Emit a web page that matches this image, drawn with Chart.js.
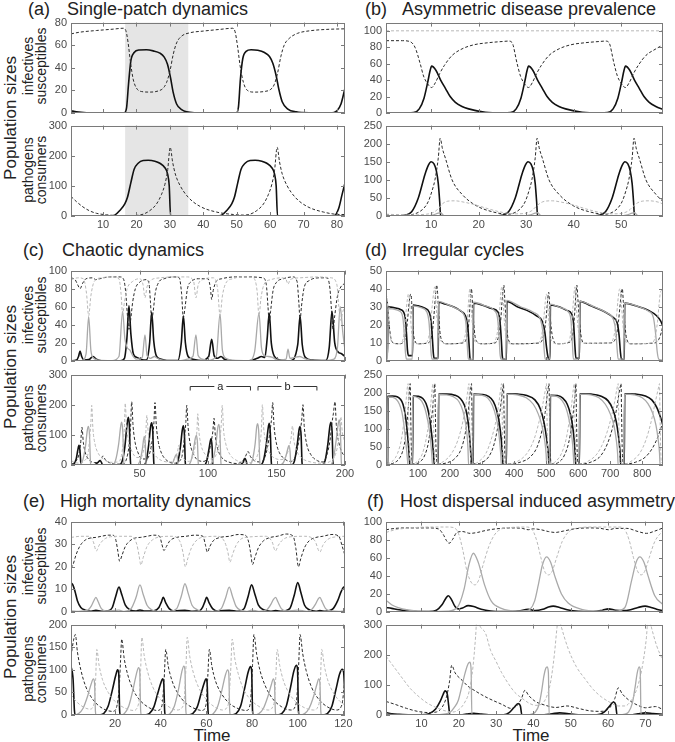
<!DOCTYPE html>
<html>
<head>
<meta charset="utf-8">
<script src="https://cdn.jsdelivr.net/npm/chart.js@4.4.0/dist/chart.umd.min.js"></script>
<style>
  body { margin: 0; background: #fff; width: 675px; height: 742px; position: relative; overflow: hidden;
         font-family: "Liberation Sans", Arial, sans-serif; color: #222; }
  canvas { position: absolute; }
  .ttl { position: absolute; font-size: 18px; line-height: 1; white-space: nowrap; }
  .rot { position: absolute; transform: translate(-50%, -50%) rotate(-90deg); white-space: nowrap; text-align: center; }
  .big { font-size: 17px; line-height: 1; }
  .small { font-size: 14px; line-height: 13px; }
  .time { position: absolute; font-size: 17px; line-height: 1; transform: translateX(-50%); }
</style>
</head>
<body>
<div class="ttl" style="left:28px;top:0px">(a)</div>
<div class="ttl" style="left:67px;top:0px">Single-patch dynamics</div>
<div class="ttl" style="left:365px;top:0px">(b)</div>
<div class="ttl" style="left:402px;top:0px">Asymmetric disease prevalence</div>
<div class="ttl" style="left:23px;top:241px">(c)</div>
<div class="ttl" style="left:62px;top:241px">Chaotic dynamics</div>
<div class="ttl" style="left:365px;top:241px">(d)</div>
<div class="ttl" style="left:402px;top:241px">Irregular cycles</div>
<div class="ttl" style="left:23px;top:492px">(e)</div>
<div class="ttl" style="left:60px;top:492px">High mortality dynamics</div>
<div class="ttl" style="left:367px;top:492px">(f)</div>
<div class="ttl" style="left:400px;top:492px">Host dispersal induced asymmetry</div>

<div class="rot big" style="left:10px;top:118px">Population sizes</div>
<div class="rot big" style="left:10px;top:367px">Population sizes</div>
<div class="rot big" style="left:10px;top:617px">Population sizes</div>
<div class="rot small" style="left:35px;top:66px">infectives<br>susceptibles</div>
<div class="rot small" style="left:35px;top:170px">pathogens<br>consumers</div>
<div class="rot small" style="left:35px;top:315px">infectives<br>susceptibles</div>
<div class="rot small" style="left:35px;top:418px">pathogens<br>consumers</div>
<div class="rot small" style="left:35px;top:566px">infectives<br>susceptibles</div>
<div class="rot small" style="left:35px;top:669px">pathogens<br>consumers</div>
<div class="time" style="left:212px;top:727px">Time</div>
<div class="time" style="left:531px;top:727px">Time</div>

<script>
// ---- tick labels ----
const aXTicks = [10, 20, 30, 40, 50, 60, 70, 80];
const bXTicks = [10, 20, 30, 40, 50];
const cXTicks = [50, 100, 150, 200];
const dXTicks = [100, 200, 300, 400, 500, 600, 700, 800];
const eXTicks = [20, 40, 60, 80, 100, 120];
const fXTicks = [10, 20, 30, 40, 50, 60, 70];
const aTopY = [0, 20, 40, 60, 80];
const aBotY = [0, 100, 200, 300];
const bTopY = [0, 20, 40, 60, 80, 100];
const bBotY = [0, 50, 100, 150, 200, 250];
const cTopY = [0, 20, 40, 60, 80, 100];
const cBotY = [0, 100, 200, 300];
const dTopY = [0, 10, 20, 30, 40, 50];
const dBotY = [0, 50, 100, 150, 200, 250];
const eTopY = [0, 10, 20, 30, 40];
const eBotY = [0, 50, 100, 150, 200];
const fTopY = [0, 20, 40, 60, 80, 100];
const fBotY = [0, 100, 200, 300];

// ---- (a) single patch ----
const aShade = [16.6, 35.5];
const aInf = [[0.4,2],[2,1],[5,0.2],[10,0],[16.3,0],[17,4],[17.6,25],[18.3,46],[19.3,53.5],[20.8,55.8],[23,56],[25,55],[27,53],[28.3,49.5],[29.3,43],[30.2,31],[31,18],[32,8],[33.5,3],[35,1],[38,0.2],[42,0],[49.8,0],[50.5,5],[51.1,30],[51.8,48],[52.8,54.5],[54.3,56],[56.3,55.5],[58.3,53.5],[59.8,50],[60.8,44],[61.8,33],[62.6,21],[63.6,10],[65.3,3.5],[67.8,1],[72,0.1],[78,0],[80,2],[81.2,8],[82.4,22]];
const aSus = [[0.4,70],[3,71.5],[8,73],[13,74.2],[16,75],[16.8,73],[17.5,62],[18.2,45],[19,30],[20,22],[21.5,19],[24,18.5],[26.5,19.5],[28,22],[29,27],[30,37],[31,52],[32,62],[33.5,68],[36,71],[40,72.5],[45,74],[48.8,75],[49.5,72],[50.2,60],[51,42],[52,27],[53.2,20],[55.2,18.5],[58.2,19],[60.2,21],[61.2,25],[62.2,35],[63.2,50],[64.2,60],[65.7,66],[68.2,70.5],[72,72.8],[77,74],[82.4,74.5]];
const aPath = [[0.4,0],[12,0],[13.5,3],[15,18],[16.5,40],[17.3,62],[18.3,110],[19.3,155],[20.5,175],[22,184],[23.5,185],[25.5,182],[27,175],[28.5,160],[29.3,140],[29.8,100],[30.2,0],[44,0],[45.5,3],[47,18],[48.5,40],[49.3,62],[50.3,110],[51.3,155],[52.5,175],[54,184],[55.5,185],[57.5,182],[59,175],[60.5,160],[61.3,140],[61.8,100],[62.2,0],[79,0],[80.5,25],[81.5,70],[82.4,110]];
const aCons = [[0.4,65],[2,48],[4,30],[6,17],[8,9],[11,4],[14,1.5],[17,0.5],[20,2],[22,6],[24,18],[26,40],[27.5,72],[28.5,105],[29.3,150],[30.1,228],[30.8,180],[31.6,140],[33,102],[35.5,62],[39,32],[44,13],[49,5],[52,3],[54,6],[56,18],[58,40],[59.5,72],[60.5,105],[61.3,150],[62.1,228],[62.8,180],[63.6,140],[65,102],[67.5,62],[71,32],[76,13],[81,5],[82.4,5]];

// ---- (b) asymmetric prevalence ----
const bInf1 = [[0.5,0.1],[5,0.1],[6.3,0.5],[7.5,5],[8.5,18],[9.3,38],[9.8,52],[10.1,57],[11,52],[12,40],[13,30],[14,20],[15.1,13],[16.5,8],[17.9,5],[21.4,1],[25,0.2],[26.7,0.5],[27.9,5],[28.9,18],[29.7,38],[30.2,52],[30.5,57],[31.4,52],[32.4,40],[33.4,30],[34.4,20],[35.5,13],[36.9,8],[38.3,5],[41.8,1],[45.5,0.2],[47.1,0.5],[48.3,5],[49.3,18],[50.1,38],[50.6,52],[50.9,57],[51.8,52],[52.8,40],[53.8,30],[54.8,20],[55.9,13],[57.3,8],[58.8,4.5]];
const bSus1 = [[0.5,88],[4,88],[5.5,87],[6.6,80],[7.7,60],[8.4,45],[9.2,36],[10.1,31],[10.9,37],[11.8,48],[12.8,58],[14.4,70],[16.5,78],[19,83],[22,85.5],[25,87],[26.3,87.5],[27,86],[28.1,60],[28.8,45],[29.6,36],[30.5,31],[31.3,37],[32.2,48],[33.2,58],[34.8,70],[36.9,78],[39.4,83],[42.4,85.5],[45.4,87],[46.7,87.5],[47.4,86],[48.5,60],[49.2,45],[50,36],[50.9,31],[51.7,37],[52.6,48],[53.6,58],[55.2,70],[57.3,78],[58.8,83]];
const bSus2 = [[0.5,100],[58.8,100]];
const bPath1 = [[0.5,0],[3,0],[4.5,2],[5.9,12],[7.3,50],[8.7,115],[9.4,140],[10,150],[10.6,144],[11.1,125],[11.5,90],[11.8,40],[12,0],[23.4,0],[24.9,2],[26.3,12],[27.7,50],[29.1,115],[29.8,140],[30.4,150],[31,144],[31.5,125],[31.9,90],[32.2,40],[32.4,0],[43.8,0],[45.3,2],[46.7,12],[48.1,50],[49.5,115],[50.2,140],[50.8,150],[51.4,144],[51.9,125],[52.3,90],[52.6,40],[52.8,0],[58.8,0]];
const bCons1 = [[0.5,3],[4,2],[6,4],[7.3,10],[8.5,22],[9.4,40],[10.2,70],[10.8,100],[11.5,160],[11.9,215],[12.4,185],[13,160],[14.4,100],[16.5,60],[19.3,30],[22.8,12],[26.3,5],[27.7,10],[28.9,22],[29.8,40],[30.6,70],[31.2,100],[31.9,160],[32.3,215],[32.8,185],[33.4,160],[34.8,100],[36.9,60],[39.7,30],[43.2,12],[46.7,5],[48.1,10],[49.3,22],[50.2,40],[51,70],[51.6,100],[52.3,160],[52.7,215],[53.2,185],[53.8,160],[55.2,100],[57.3,60],[58.8,40]];
const bPath2 = [[0.5,0],[9,0],[10.5,3],[11.5,8],[12,9],[12.5,3],[13,0],[29.4,0],[30.9,3],[31.9,8],[32.4,9],[32.9,3],[33.4,0],[49.8,0],[51.3,3],[52.3,8],[52.8,9],[53.3,3],[53.8,0],[58.8,0]];
const bCons2 = [[0.5,5],[5,3],[9,5],[10.5,10],[11.5,20],[12.5,35],[13.5,41],[15,42],[17,38],[19,32],[22,20],[25,10],[28,6],[30,8],[31.2,15],[32,25],[33,36],[34,41],[35.5,42],[37.5,38],[39.5,32],[42.5,20],[45.5,10],[48.4,6],[50.4,8],[51.6,15],[52.4,25],[53.4,36],[54.4,41],[55.9,42],[57.9,38],[58.8,33]];

// ---- (c) chaotic ----
const cInf1 = [[0,0.3],[4,1],[5.5,5],[6.6,11],[7.8,5],[9.5,1],[13,1.5],[16.1,5],[18.5,2],[22,0.3],[36,0.3],[39,3],[40.8,25],[42.3,61],[43.7,30],[45.5,8],[48,4],[51,2],[55,1],[57.4,20],[58.9,54],[60.4,22],[62.5,5],[66,2],[70,0.5],[78,0.5],[80.5,20],[82,50],[83.5,20],[85.5,5],[89,2],[95,0.5],[100.5,5],[102.7,24],[104.5,6],[107,3],[109.5,5],[112,2],[118,0.3],[130,0.3],[136,3],[139,5],[141.5,4],[143.2,25],[144.7,53],[146.2,20],[148.5,5],[152,1.5],[160,0.3],[165.5,18],[167.2,50],[168.8,18],[171,4],[176,1],[186,0.5],[188.5,15],[190.5,55],[192.5,20],[195,10],[197.5,8],[200,5]];
const cInf2 = [[0,0.5],[8,0.5],[11,8],[12.9,49],[14.5,12],[16.5,3],[20,1],[30,0.5],[35,5],[37.7,55],[39.3,25],[41,15],[43,12],[45,6],[48,2],[52,4],[54,29],[55.5,6],[58,3],[61,5],[63,3],[67,1],[80,0.5],[85,2],[89,5],[91.2,29],[92.8,6],[96,2],[100,0.5],[106,5],[108.8,52],[110.5,12],[113,3],[118,1],[130,0.5],[134,10],[137.2,53],[139,15],[141,6],[144,5],[147,4],[151,1],[157,2],[158.4,13],[159.8,3],[163,4],[167,5],[170,3],[175,1],[185,0.5],[192,2],[194.5,15],[196.5,60],[198.5,30],[200,12]];
const cSus1 = [[0,92],[3,90],[5,84],[6.6,80],[8.5,86],[11,91],[16,92],[18,90],[21,91],[28,93],[36,93],[38.5,90],[40,75],[41.2,50],[42.3,35],[43.5,45],[45,65],[47,80],[50,87],[55,90],[57,85],[58,65],[58.9,45],[60,55],[61.5,75],[64,87],[68,91],[75,93],[79,92],[80.7,75],[82,48],[83.3,60],[85,80],[88,88],[93,91],[100,91],[101.8,80],[102.7,68],[103.8,78],[106,88],[110,91],[120,93],[130,93],[140,92],[142.5,85],[143.8,60],[144.7,42],[145.7,55],[147.5,78],[150,87],[155,91],[162,93],[165,88],[166.3,65],[167.2,45],[168.2,60],[170,80],[174,89],[182,92],[187,92],[189,80],[190.2,55],[191.2,35],[192.5,50],[194.5,72],[197,82],[200,86]];
const cSus2 = [[0,90],[5,92],[9,91],[11.3,75],[12.9,50],[14.5,72],[17,88],[22,92],[30,93],[35,91],[36.5,75],[37.7,52],[39,65],[41,80],[45,88],[50,91],[52.5,85],[54,70],[55.5,82],[58,89],[65,92],[75,93],[85,93],[89.5,88],[91.2,70],[92.8,84],[96,90],[104,92],[107,80],[108.8,50],[110.5,72],[113,86],[118,91],[125,93],[133,92],[135.8,78],[137.2,50],[138.7,70],[141,85],[146,90],[153,92],[157,90],[158.4,85],[160,90],[167,92],[180,93],[190,92],[194,85],[195.5,60],[196.8,45],[198.5,55],[200,62]];
const cPath1 = [[0,0],[2,3],[3.8,20],[5,50],[5.8,65],[6.5,50],[7.2,5],[7.6,0],[17,0],[19.5,8],[21.2,15],[22.3,8],[23,0],[35,0],[37.5,15],[39.3,60],[40.8,130],[41.8,158],[42.6,130],[43.3,20],[43.6,0],[53,0],[55,15],[56.8,70],[58,125],[58.9,140],[59.7,110],[60.4,10],[60.7,0],[76,0],[78.2,15],[80,65],[81.2,115],[82,130],[82.8,100],[83.4,10],[83.7,0],[97,0],[99,12],[100.8,55],[102.2,88],[103,60],[103.5,0],[123,0],[125.5,8],[127,22],[128,12],[128.6,0],[138,0],[140.5,15],[142.6,70],[144,125],[144.7,138],[145.5,105],[146.2,10],[146.5,0],[161,0],[163.2,15],[165.2,70],[166.5,118],[167.2,128],[168,95],[168.6,10],[168.9,0],[183,0],[185.5,15],[187.5,70],[189,130],[189.8,142],[190.6,110],[191.2,10],[191.5,0],[200,0]];
const cCons1 = [[0,3],[3,10],[5.5,30],[7,70],[8,125],[9,75],[10.5,40],[13,18],[17,8],[21,12],[23.4,30],[25,18],[28,8],[33,3],[38,3],[40.5,20],[42.5,70],[43.5,130],[44.3,210],[45.3,130],[46.8,75],[49,40],[52,20],[55.5,20],[57.5,40],[59.5,90],[60.5,140],[61.3,207],[62.3,130],[63.8,75],[66,40],[70,15],[75,6],[79,12],[81.5,40],[83,100],[83.8,140],[84.5,198],[85.5,125],[87,70],[89.5,35],[93,15],[97,12],[100,30],[102,70],[103.5,110],[104.4,155],[105.4,95],[107,55],[110,25],[115,10],[121,5],[125.5,15],[127.5,30],[129.2,45],[131,28],[134,14],[138,10],[141,20],[143.5,60],[145.5,120],[146.5,160],[147.2,207],[148.2,130],[149.8,75],[152,42],[156,20],[160,12],[163,20],[165.5,60],[167.6,120],[168.5,155],[169.3,200],[170.3,125],[172,70],[175,35],[180,14],[184,10],[186.5,30],[189,80],[190.5,140],[191.5,170],[192.7,210],[193.7,130],[195.5,75],[198,40],[200,30]];
const cPath2 = [[0,0],[6,0],[8.5,15],[10.5,60],[11.9,115],[12.7,128],[13.5,100],[14.2,10],[14.5,0],[30,0],[32.5,15],[34.8,70],[36.3,130],[37,142],[37.8,110],[38.5,10],[38.8,0],[48,0],[50.2,12],[52,50],[53,85],[53.5,95],[54.2,70],[54.8,5],[55.1,0],[72,0],[74.5,10],[76.2,30],[76.9,35],[77.6,25],[78.2,0],[85,0],[87.5,12],[89.5,55],[90.8,90],[91.5,98],[92.3,75],[92.9,5],[93.2,0],[101,0],[103.5,15],[105.7,65],[107.2,125],[107.9,135],[108.7,105],[109.4,10],[109.7,0],[130,0],[132.3,15],[134.4,70],[135.6,128],[136.3,137],[137.1,105],[137.8,10],[138.1,0],[153,0],[155.5,12],[157.5,40],[158.6,60],[159.2,65],[159.9,45],[160.5,0],[189,0],[191.5,20],[193.5,80],[195,135],[195.8,150],[196.6,120],[197.3,10],[197.6,0],[200,0]];
const cCons2 = [[0,15],[3,8],[7,6],[10,15],[12.5,40],[13.8,100],[14.5,140],[15.1,198],[16,120],[17.5,70],[20,38],[24,18],[29,9],[34,10],[36.5,25],[38,70],[39,130],[39.6,205],[40.5,130],[42,80],[44.5,45],[48,25],[51,25],[53,50],[54.5,100],[55.4,165],[56.3,110],[58,65],[61,35],[66,15],[72,10],[76,25],[77.8,45],[78.6,65],[79.6,42],[82,22],[86,12],[89,30],[91.2,80],[92,120],[92.5,170],[93.4,110],[95,65],[98,35],[102,20],[106,35],[108.5,80],[109.6,130],[110.4,198],[111.3,120],[113,70],[116,35],[121,15],[128,7],[134,15],[137.5,60],[139,120],[139.7,200],[140.6,125],[142.3,75],[145,40],[149,22],[154,18],[158,40],[160.5,85],[161.7,130],[162.6,85],[164.5,50],[168,25],[175,10],[183,6],[190,15],[194,50],[196,110],[197,160],[198,110],[200,75]];
const cBrackets = [{ label: "a", from: 87, to: 131, level: 262 }, { label: "b", from: 136.5, to: 179.5, level: 262 }];

// ---- (d) irregular cycles ----
const dInf1 = [[0,3.5],[5,3.5],[6,30],[15,29.8],[30,29.3],[45,28.5],[55,27],[60,24],[64,15],[67,6],[70,3],[83,3],[84.5,31],[100,30.5],[120,29.3],[135,27],[141,22],[145,12],[148,4],[150,1.5],[163,1.5],[164.5,32.5],[185,31.5],[210,30],[235,27.5],[248,25],[255,20],[259,10],[262,2],[264,0.3],[272,0.3],[273.5,32],[300,31],[330,29],[350,27],[356,22],[360,12],[363,3],[365,1],[376,1],[377.5,33],[410,30],[440,28],[470,25],[488,22],[496,16],[501,8],[505,3],[508,1],[512,1],[513.5,31],[540,30],[565,28],[580,26],[586,20],[590,8],[593,1.5],[604,1.5],[605.5,33],[640,30.5],[680,27.5],[710,24],[722,21],[728,14],[732,5],[735,1],[744,1],[745.5,32],[780,30.5],[820,28],[845,25],[858,22],[865,19]];
const dInf2 = [[0,1],[5,1],[6,29],[20,28.8],[40,27.8],[50,26],[54,22],[58,12],[61,4],[64,1],[82,1],[83.5,30.5],[110,29.5],[128,27],[134,22],[138,12],[141,4],[144,1],[162,1],[163.5,33],[190,31.5],[220,29],[242,26],[250,20],[254,8],[257,1],[271,1],[272.5,32.5],[310,30.5],[338,28],[348,24],[353,14],[356,4],[359,1],[375,1],[376.5,33.5],[420,30],[460,27],[482,23],[490,16],[494,6],[497,1],[511,1],[512.5,31.5],[545,29.5],[570,27],[578,22],[582,10],[585,1],[603,1],[604.5,33],[650,30],[690,26.5],[710,23],[718,16],[722,6],[725,1],[743,1],[744.5,32],[790,30],[820,27.5],[835,24],[842,15],[847,5],[852,1],[865,0.5]];
const dSus1 = [[0,36],[3,34],[6,30],[10,20],[15,13],[22,10],[40,9.5],[55,10.5],[62,14],[67,22],[71,30],[75,36],[78,37],[80,33],[82,25],[86,15],[92,10.5],[100,9.5],[130,10],[140,12],[146,18],[151,28],[155,37],[158,42],[161,38],[164,28],[168,17],[175,11],[190,9.5],[240,10],[252,13],[258,20],[262,30],[265,38],[267,40],[269,35],[272,26],[277,15],[285,10.5],[300,9.5],[340,10],[352,14],[358,22],[362,32],[366,40],[368,42],[371,34],[375,22],[382,12],[395,9.5],[480,10],[492,14],[499,22],[503,30],[506,36],[508,38],[511,31],[515,20],[522,12],[535,9.5],[575,10.5],[584,16],[589,26],[593,37],[596,42],[599,35],[603,24],[610,13],[620,9.8],[700,10],[718,13],[726,22],[731,31],[735,38],[738,40],[741,33],[745,22],[752,12],[765,9.5],[840,10],[852,12],[860,16],[865,20]];
const dSus2 = [[0,37],[3,35],[6,30],[10,19],[15,12],[22,10],[40,9.5],[50,10.5],[56,15],[61,24],[66,33],[70,37],[73,34],[76,26],[80,16],[86,11],[95,9.5],[125,10],[133,13],[139,20],[144,30],[149,38],[152,41],[155,35],[159,24],[165,14],[175,10.5],[190,9.5],[235,10],[247,14],[253,22],[257,31],[260,38],[262,40],[265,33],[269,22],[275,12],[285,10],[300,9.5],[335,10],[347,15],[353,24],[357,34],[360,40],[363,41],[366,33],[370,21],[377,12],[390,9.5],[475,10],[487,15],[493,24],[497,32],[500,37],[503,36],[507,26],[512,15],[520,10.5],[535,9.5],[570,10.5],[578,17],[583,28],[587,37],[590,41],[593,34],[598,22],[605,12],[620,9.8],[700,10],[712,14],[719,23],[724,33],[728,39],[731,40],[735,32],[740,20],[748,11],[765,9.5],[830,10],[840,13],[848,22],[853,32],[857,38],[861,39],[865,34]];
const dPath1 = [[0,0],[5,0],[6.5,190],[20,191],[35,189],[45,182],[53,168],[60,140],[66,95],[70,55],[73,20],[74.5,0],[83,0],[84.5,191],[100,190],[115,184],[125,170],[133,145],[140,105],[145,65],[148.5,30],[151,0],[163,0],[164.5,196],[190,196],[215,193],[232,184],[245,165],[253,138],[259,100],[263,55],[265.5,20],[266.5,0],[272,0],[273.5,196],[300,195],[320,190],[335,176],[346,150],[354,115],[360,70],[363.5,30],[365.5,0],[376,0],[377.5,197],[410,196],[440,192],[465,180],[482,155],[494,115],[502,70],[507,30],[510,0],[512,0],[513.5,193],[535,192],[552,185],[566,168],[576,140],[584,100],[589,55],[591.5,20],[592.5,0],[604,0],[605.5,197],[640,196],[670,191],[693,178],[708,155],[719,120],[726,80],[730.5,40],[733,0],[744,0],[745.5,197],[780,196],[810,191],[830,180],[845,160],[858,130],[865,110]];
const dPath2 = [[0,0],[4.5,0],[6,188],[20,187],[32,182],[42,168],[50,145],[56,110],[61,70],[65,35],[67.5,10],[68.5,0],[82,0],[83.5,190],[100,186],[112,176],[122,155],[131,120],[137,85],[141,50],[143.5,20],[145,0],[162,0],[163.5,195],[190,194],[210,189],[228,175],[240,150],[248,118],[253,85],[256,45],[258,0],[271,0],[272.5,195],[300,193],[318,185],[332,165],[343,135],[351,98],[356,55],[359,20],[360,0],[375,0],[376.5,196],[410,194],[438,186],[460,168],[476,140],[488,105],[496,65],[500,30],[502,0],[511,0],[512.5,192],[535,189],[550,178],[562,158],[571,128],[578,95],[583,55],[585.5,20],[586.5,0],[603,0],[604.5,196],[640,194],[665,186],[685,168],[701,140],[712,108],[719,70],[723,35],[725,0],[743,0],[744.5,196],[775,194],[800,186],[818,170],[832,145],[843,110],[850,70],[854,35],[856,0],[865,0]];
const dCons1 = [[0,20],[3,6],[8,2],[25,6],[40,16],[52,38],[60,72],[66,120],[70,165],[73.5,210],[75.5,225],[77,150],[79,50],[82,8],[88,3],[105,8],[120,25],[132,60],[140,110],[146,160],[150,205],[152.5,225],[154,150],[156,50],[159,8],[166,3],[190,6],[215,18],[235,45],[248,90],[256,140],[261,185],[265,215],[267,225],[268.5,150],[270.5,50],[273,8],[280,3],[300,7],[320,22],[335,50],[347,95],[355,140],[361,185],[365,215],[367,225],[368.5,150],[370.5,50],[373,8],[385,3],[420,8],[450,22],[472,50],[487,95],[497,145],[503,190],[507,215],[509,225],[510.5,150],[512.5,50],[515,8],[522,3],[540,8],[556,25],[570,60],[580,110],[587,165],[591,205],[593,225],[594.5,150],[596.5,50],[599,8],[610,3],[640,8],[670,25],[692,60],[708,105],[720,155],[728,200],[732,218],[734,225],[735.5,150],[737.5,50],[740,8],[750,3],[780,8],[810,22],[833,48],[850,80],[865,120]];
const dCons2 = [[0,45],[2,15],[5,3],[8,4],[22,12],[36,32],[48,70],[56,120],[62,170],[66,210],[69,225],[70.5,150],[72.5,50],[75,8],[82,3],[98,10],[113,30],[125,70],[134,120],[140,170],[144,210],[146.5,225],[148,150],[150,50],[152.5,8],[160,3],[180,10],[205,32],[225,70],[240,120],[250,170],[256,210],[259,225],[260.5,150],[262.5,50],[265,8],[272,3],[290,10],[312,32],[330,75],[344,125],[353,175],[358,210],[361,225],[362.5,150],[364.5,50],[367,8],[378,3],[410,10],[440,32],[462,70],[478,120],[490,170],[498,210],[501,225],[502.5,150],[504.5,50],[507,8],[515,3],[530,10],[548,32],[562,70],[572,120],[580,170],[585,210],[588,225],[589.5,150],[591.5,50],[594,8],[606,3],[630,10],[660,32],[682,70],[700,120],[713,170],[721,210],[725,225],[726.5,150],[728.5,50],[731,8],[746,3],[765,10],[792,32],[812,70],[828,120],[840,170],[850,210],[854,225],[855.5,150],[857.5,50],[860,8],[865,4]];

// ---- (e) high mortality ----
const eInf1 = [[0.7,12.8],[1.5,12],[2.5,9],[3.5,5],[5,2],[7,0.8],[9.5,0.3],[11.6,0.7],[14,0.3],[17,0.5],[18.8,2],[20.3,7],[21.7,11],[23,7.5],[24.5,3],[26.5,1],[29,0.4],[30.9,0.9],[33,0.4],[37,0.5],[39.2,2],[40.3,4.5],[41.1,6.5],[42.2,4],[43.7,1.5],[46,0.4],[50.6,0.8],[54,0.3],[57,0.5],[58.3,2],[59.3,4.5],[60.1,6.5],[61.2,4],[62.7,1.5],[65,0.4],[70,0.8],[74,0.3],[76.5,1.5],[78.3,7],[79.8,12],[81.2,8],[82.8,3],[85,1],[88,0.3],[90.3,0.6],[93,0.3],[96.5,1.5],[98.5,7.5],[100,13],[101.4,8.5],[103,3],[105,1],[108,0.3],[109.7,0.6],[112,0.3],[115.5,1.5],[117.5,5],[119,9],[120.2,11],[120.7,10.5]];
const eInf2 = [[0.7,0.5],[4,0.3],[8,0.8],[9.5,2.5],[10.7,5],[11.6,6.5],[12.6,4.5],[14,1.5],[16,0.5],[21.7,0.8],[24,0.3],[27,1.5],[29.2,6.5],[30.9,12],[32.4,7.5],[34,3],[36,1],[38.5,0.3],[41.1,0.5],[44,0.3],[47,1.5],[49,7],[50.6,12.5],[52.1,8],[53.7,3],[56,1],[58.5,0.3],[60.1,0.5],[63,0.3],[66.5,1.5],[68.5,6.5],[70,11],[71.4,7],[73,2.5],[75,0.8],[77.5,0.3],[79.8,0.8],[83,0.3],[86.5,1],[88.3,3.5],[89.3,5.5],[90.3,6.5],[91.3,4.5],[92.8,1.5],[95,0.5],[100,0.8],[104,0.3],[106,1],[107.8,3.5],[108.8,5.5],[109.7,6.5],[110.7,4.5],[112.2,1.5],[114.5,0.5],[118,0.3],[120.7,0.5]];
const eSus1 = [[0.7,19.5],[1.6,21],[2.8,25],[4.5,29],[6.5,31.5],[9,32.7],[11.6,33],[14,33.5],[17,34],[19,34],[20.3,32],[21.2,27],[22,22.5],[23,25],[24.5,29],[26.5,31.5],[29,32.8],[31,33],[34,33.5],[37,34],[39.5,33.5],[40.5,30],[41.4,27.2],[42.5,29],[44,31.5],[47,33],[51,33.5],[55,34],[58.5,33.5],[59.5,30],[60.4,26.5],[61.5,29],[63,31.5],[66,33],[70,33.5],[74,34.3],[77,34],[78.5,31],[79.4,26],[80.2,21],[81.2,24],[82.8,28.5],[85,31.5],[88,33],[91,33.5],[95,34.5],[98,33.5],[99.2,28],[100.3,20],[101.3,23.5],[103,28.5],[105,31.5],[108,33],[111,33.5],[115,34.3],[118,33.5],[119.5,29],[120.7,25]];
const eSus2 = [[0.7,33],[5,33.5],[9,33.5],[10.5,31],[11.8,27],[13,29.5],[15,32],[18,33.3],[22,33.5],[27,33.5],[29.5,30],[30.5,25],[31.3,20.8],[32.3,24],[34,29],[36.5,32],[40,33.3],[45,33.5],[48.5,31],[49.8,26],[50.8,20],[51.8,23.5],[53.5,28.5],[56,32],[60,33.3],[65,33.5],[68,31],[69.4,26.5],[70.3,22],[71.3,25],[73,29.5],[75.5,32.5],[80,33.3],[86,33.5],[88.8,31],[90.2,27],[91.5,29.5],[93.5,32],[97,33.3],[103,33.5],[107.5,31.5],[109.7,26.5],[111,29.5],[113,32],[117,33.3],[120.7,33.5]];
const ePath1 = [[0.7,108],[1.6,80],[2.2,10],[2.6,0],[13,0],[15,3],[17,20],[18.8,55],[20.3,88],[21.1,100],[21.6,92],[22,10],[22.3,0],[33,0],[35,3],[37,18],[38.8,50],[40,70],[40.8,80],[41.3,72],[41.7,10],[42,0],[52,0],[54,3],[56,18],[57.8,50],[59,70],[59.8,80],[60.3,72],[60.7,10],[61,0],[71,0],[73,3],[75,20],[76.8,60],[78.3,95],[79.3,107],[79.8,100],[80.2,10],[80.5,0],[91,0],[93,3],[95,20],[96.8,60],[98.3,97],[99.4,110],[99.9,102],[100.3,10],[100.6,0],[111,0],[113,3],[115,20],[116.8,58],[118.3,90],[119.5,101],[120.1,95],[120.7,30]];
const eCons1 = [[0.7,130],[1.8,165],[2.6,178],[3.5,140],[5,100],[7,65],[9.5,40],[12.5,22],[16,11],[19,8],[20.5,15],[21.8,60],[22.4,120],[22.9,168],[24,125],[25.5,90],[28,55],[31,32],[35,16],[38.5,10],[40.5,20],[41.5,80],[42.2,145],[43.3,108],[45,75],[47.5,48],[51,26],[55,14],[58,10],[59.8,22],[60.6,85],[61.3,145],[62.4,108],[64,75],[66.5,48],[70,26],[74,14],[77.5,10],[79.2,25],[80.2,110],[80.8,178],[82,135],[83.5,98],[86,62],[89,36],[93,18],[97,11],[99.3,25],[100.4,110],[101,178],[102.2,135],[103.7,98],[106,62],[109,36],[113,18],[117,11],[119.3,22],[120.7,80]];
const ePath2 = [[0.7,0],[2,0],[4,3],[6,15],[8,42],[9.5,68],[10.5,80],[11,72],[11.4,8],[11.7,0],[22,0],[24,3],[26,20],[27.8,55],[29.3,90],[30.3,105],[30.8,97],[31.2,10],[31.5,0],[42,0],[44,3],[46,20],[47.8,57],[49.2,95],[50.1,108],[50.6,100],[51,10],[51.3,0],[61,0],[63,3],[65,20],[66.8,55],[68.3,88],[69.3,100],[69.8,93],[70.2,10],[70.5,0],[81,0],[83,3],[85,15],[87,42],[88.5,68],[89.3,80],[89.8,72],[90.2,8],[90.5,0],[101,0],[103,3],[105,15],[107,42],[108.4,68],[109.2,80],[109.7,72],[110.1,8],[110.4,0],[120.7,0]];
const eCons2 = [[0.7,45],[3,30],[6,18],[9,13],[10.8,25],[11.5,80],[12,145],[13,110],[14.5,78],[17,50],[20,30],[24,16],[28,10],[30.3,25],[31.2,100],[31.7,172],[32.8,130],[34.3,95],[36.5,62],[39.5,37],[43,20],[47,11],[50,22],[51,100],[51.6,172],[52.7,130],[54.2,95],[56.5,62],[59.5,37],[63,20],[67,11],[69.5,22],[70.6,95],[71.3,168],[72.4,126],[73.9,92],[76,60],[79,36],[83,19],[87,11],[89.6,25],[90.4,85],[91,145],[92.1,110],[93.6,78],[96,50],[99,30],[103,16],[107,11],[109.3,25],[110,85],[110.5,145],[111.6,110],[113.1,78],[115.5,50],[118.5,30],[120.7,22]];

// ---- (f) host dispersal ----
const fInf1 = [[0.5,5],[2,4],[4,2.5],[6,1.5],[9,0.6],[12,0.6],[14,2],[15.5,8],[16.5,15],[17.2,18],[18,14],[19,6],[19.8,3.5],[21,4.5],[22.5,7],[24,6],[26,3],[28.5,1],[32,0.4],[36,1],[38.6,3],[40.5,1.5],[42.5,3],[44,5.5],[45.3,6.5],[47,5],[49,2.5],[52,0.8],[56,0.5],[58.5,2],[60.1,3.5],[62,2],[64,1.5],[66,2.5],[68,5],[69.9,6.5],[71.5,5],[73,3],[74.7,1.5]];
const fInf2 = [[0.5,13],[2,8],[4,4.5],[6,2.5],[9,1],[13,0.5],[17,1],[19.6,5],[21.4,25],[22.7,52],[23.9,65],[25.2,55],[26.9,30],[28.7,12],[31.4,4],[35.8,1],[38,1.5],[39.1,3],[40.3,12],[41.3,30],[42.4,52],[43.5,61],[44.6,55],[45.7,40],[47.5,20],[49.3,10],[52.9,3],[57,1],[62,1],[64.5,5],[66.3,35],[67.5,55],[68.5,61],[69.6,55],[70.7,40],[72.5,18],[74.7,8]];
const fSus1 = [[0.5,91],[3,92.5],[7,93],[12,93],[14.5,92],[15.8,86],[16.7,79],[17.4,76],[18.3,80],[19.5,88],[21,89],[23,87],[25,88],[27,90],[30,92],[34,93],[37,92.5],[38.6,91],[40,92],[42,91],[44,89],[45.8,88],[48,89.5],[51,92],[55,93],[58,92.5],[60.1,91],[62,92.5],[65,92.5],[68,89],[70.3,87],[72.5,89.5],[74.7,93]];
const fSus2 = [[0.5,88],[3,91],[7,93],[12,94],[17,94],[18.5,93.5],[19.8,88],[21,70],[22.2,45],[23.3,33],[24.3,30],[25.3,35],[26.5,52],[28,72],[29.5,85],[31,91],[34,93.5],[38,94],[39.5,92],[40.8,80],[42,60],[43,45],[44,41],[45,45],[46.2,60],[47.7,78],[49.5,89],[52,93],[56,94],[63,94],[64.3,92],[65.6,80],[66.8,60],[67.8,46],[68.8,41],[69.8,45],[71,60],[72.5,78],[74.7,90]];
const fPath1 = [[0.5,8],[2,4],[4,2],[7,0.5],[10,0.5],[12,4],[13.8,20],[15,45],[15.8,68],[16.3,80],[16.9,70],[17.3,30],[17.6,0],[20,0],[22,3],[24,6],[26,3],[28,0.5],[32,1],[33.5,8],[34.8,25],[35.9,38],[36.5,30],[36.9,0],[42,0],[45,4],[47,7],[49,5],[52,1],[57,1],[59,10],[60.4,30],[61.4,43],[62,35],[62.4,0],[66,0],[68,4],[70,7],[72,5],[74.7,2]];
const fCons1 = [[0.5,45],[3,35],[6,22],[9,12],[12,8],[14,10],[15.5,25],[16.7,60],[17.5,110],[18.1,165],[19,140],[20.9,115],[22.5,95],[24.4,80],[26,68],[28,55],[31.6,35],[34,22],[35.5,30],[36.8,55],[37.7,82],[38.7,65],[40.5,45],[43,33],[46,25],[49,30],[52,22],[55,14],[58,12],[60.5,25],[61.8,55],[62.7,90],[63.8,70],[65.5,50],[68,32],[70,24],[72.7,28],[74.7,18]];
const fPath2 = [[0.5,3],[3,1],[8,0.5],[14,0.5],[16,3],[17.6,8],[18.8,25],[19.9,50],[20.8,95],[21.7,140],[22.5,170],[23,175],[23.3,150],[23.5,0],[38,0],[39.5,3],[40.5,10],[41.5,35],[42.2,80],[42.8,130],[43.3,155],[43.7,160],[44,140],[44.2,0],[62,0],[64.5,3],[65.5,10],[66.5,40],[67.2,90],[67.8,140],[68.3,160],[68.6,150],[68.8,0],[74.7,0]];
const fCons2 = [[0.5,195],[2,170],[3.5,145],[5,120],[7,88],[9.4,60],[11.5,40],[13.9,25],[16,15],[18.4,10],[20,18],[21.5,40],[22.8,80],[23.8,160],[24.5,260],[24.9,330],[25.5,300],[27.2,270],[28.5,215],[29.9,180],[31.5,140],[33.5,100],[35,75],[37,55],[39,38],[40.6,32],[42,35],[43.5,60],[44.6,110],[45.6,200],[46.3,290],[46.7,330],[47.3,300],[49.3,220],[51.5,160],[53.8,120],[56,85],[58.2,60],[60.5,42],[62.7,30],[64.5,30],[66,45],[67.5,80],[69,150],[70.2,250],[70.8,330],[71.4,300],[73,230],[74.7,180]];

// ---- styles and layout ----
const FONT = "'Liberation Sans', Arial, sans-serif";
const lineStyles = {
  k:  { color: "#111", width: 1.6, dash: [] },
  kd: { color: "#2a2a2a", width: 1, dash: [3, 2] },
  g:  { color: "#a9a9a9", width: 1.3, dash: [] },
  gd: { color: "#b8b8b8", width: 1, dash: [3, 2] },
};
const colL = { x: 71, w: 274 };
const colR = { x: 386, w: 277 };
const rowTops = [[20, 123], [268, 372], [519, 622]];
const PLOT_H = 93;
const PAD_L = 40, PAD_T = 8, PAD_R = 14, AXIS_H = 20;

// box, inward ticks, shading and bracket marks, all placed through the chart scales
const framePlugin = {
  id: "frame",
  beforeDatasetsDraw(chart, args, opts) {
    if (!opts.shade) return;
    const { ctx, chartArea: a, scales: { x } } = chart;
    const x0 = x.getPixelForValue(opts.shade[0]);
    const x1 = x.getPixelForValue(opts.shade[1]);
    ctx.save();
    ctx.fillStyle = "#e5e5e5";
    ctx.fillRect(x0, a.top, x1 - x0, a.bottom - a.top);
    ctx.restore();
  },
  afterDatasetsDraw(chart, args, opts) {
    const { ctx, chartArea: a, scales: { x, y } } = chart;
    ctx.save();
    ctx.strokeStyle = "#7a7a7a";
    ctx.lineWidth = 1;
    ctx.beginPath();
    x.ticks.forEach((t) => {
      const px = Math.round(x.getPixelForValue(t.value)) + 0.5;
      ctx.moveTo(px, a.bottom); ctx.lineTo(px, a.bottom - 4);
      ctx.moveTo(px, a.top); ctx.lineTo(px, a.top + 4);
    });
    y.ticks.forEach((t) => {
      const py = Math.round(y.getPixelForValue(t.value)) + 0.5;
      ctx.moveTo(a.left, py); ctx.lineTo(a.left + 4, py);
      ctx.moveTo(a.right, py); ctx.lineTo(a.right - 4, py);
    });
    ctx.stroke();
    ctx.strokeRect(Math.round(a.left) + 0.5, Math.round(a.top) + 0.5,
      Math.round(a.right - a.left) - 1, Math.round(a.bottom - a.top) - 1);

    (opts.brackets || []).forEach((b) => {
      const x0 = x.getPixelForValue(b.from), x1 = x.getPixelForValue(b.to);
      const py = Math.round(y.getPixelForValue(b.level)) + 0.5;
      const mid = (x0 + x1) / 2;
      ctx.strokeStyle = "#333";
      ctx.beginPath();
      ctx.moveTo(x0, py + 4); ctx.lineTo(x0, py); ctx.lineTo(mid - 6, py);
      ctx.moveTo(mid + 6, py); ctx.lineTo(x1, py); ctx.lineTo(x1, py + 4);
      ctx.stroke();
      ctx.fillStyle = "#222";
      ctx.font = "11px " + FONT;
      ctx.textAlign = "center";
      ctx.textBaseline = "middle";
      ctx.fillText(b.label, mid, py);
    });
    ctx.restore();
  },
};

function makeAxis(min, max, tickVals, isX, showLabels) {
  return {
    type: "linear",
    min: min,
    max: max,
    afterBuildTicks: (s) => { s.ticks = tickVals.map((v) => ({ value: v })); },
    afterFit: (s) => { if (isX) s.height = AXIS_H; else s.width = PAD_L; },
    grid: { display: false, drawTicks: false },
    border: { display: false },
    ticks: {
      display: showLabels,
      autoSkip: false,
      maxRotation: 0,
      padding: isX ? 2 : 4,
      color: "#4a4a4a",
      font: { family: FONT, size: 11 },
    },
  };
}

function drawPlot(col, top, xr, xt, yr, yt, showX, series, extra) {
  const c = document.createElement("canvas");
  const w = PAD_L + col.w + PAD_R, h = PAD_T + PLOT_H + AXIS_H;
  c.width = w; c.height = h;
  c.style.left = (col.x - PAD_L) + "px";
  c.style.top = (top - PAD_T) + "px";
  c.style.width = w + "px"; c.style.height = h + "px";
  document.body.appendChild(c);

  const datasets = series.map(([pts, kind]) => ({
    data: pts,
    borderColor: lineStyles[kind].color,
    borderWidth: lineStyles[kind].width,
    borderDash: lineStyles[kind].dash,
    pointRadius: 0,
    fill: false,
    cubicInterpolationMode: "monotone",
  }));

  new Chart(c, {
    type: "line",
    data: { datasets },
    options: {
      responsive: false,
      animation: false,
      devicePixelRatio: 1,
      events: [],
      layout: { padding: { left: 0, top: PAD_T, right: PAD_R, bottom: 0 } },
      scales: {
        x: makeAxis(xr[0], xr[1], xt, true, showX),
        y: makeAxis(yr[0], yr[1], yt, false, true),
      },
      plugins: {
        legend: { display: false },
        tooltip: { enabled: false },
        frame: extra || {},
      },
    },
    plugins: [framePlugin],
  });
}

// (a)
drawPlot(colL, rowTops[0][0], [0.4, 82.4], aXTicks, [0, 80], aTopY, false,
  [[aSus, "kd"], [aInf, "k"]], { shade: aShade });
drawPlot(colL, rowTops[0][1], [0.4, 82.4], aXTicks, [0, 300], aBotY, true,
  [[aCons, "kd"], [aPath, "k"]], { shade: aShade });
// (b)
drawPlot(colR, rowTops[0][0], [0.5, 58.8], bXTicks, [0, 110], bTopY, false,
  [[bSus2, "gd"], [bSus1, "kd"], [bInf1, "k"]]);
drawPlot(colR, rowTops[0][1], [0.5, 58.8], bXTicks, [0, 250], bBotY, true,
  [[bCons2, "gd"], [bPath2, "g"], [bCons1, "kd"], [bPath1, "k"]]);
// (c)
drawPlot(colL, rowTops[1][0], [0, 200], cXTicks, [0, 100], cTopY, false,
  [[cSus2, "gd"], [cInf2, "g"], [cSus1, "kd"], [cInf1, "k"]]);
drawPlot(colL, rowTops[1][1], [0, 200], cXTicks, [0, 300], cBotY, true,
  [[cCons2, "gd"], [cPath2, "g"], [cCons1, "kd"], [cPath1, "k"]], { brackets: cBrackets });
// (d)
drawPlot(colR, rowTops[1][0], [0, 865], dXTicks, [0, 50], dTopY, false,
  [[dSus2, "gd"], [dInf2, "g"], [dSus1, "kd"], [dInf1, "k"]]);
drawPlot(colR, rowTops[1][1], [0, 865], dXTicks, [0, 250], dBotY, true,
  [[dCons2, "gd"], [dPath2, "g"], [dCons1, "kd"], [dPath1, "k"]]);
// (e)
drawPlot(colL, rowTops[2][0], [0.7, 120.7], eXTicks, [0, 40], eTopY, false,
  [[eSus2, "gd"], [eInf2, "g"], [eSus1, "kd"], [eInf1, "k"]]);
drawPlot(colL, rowTops[2][1], [0.7, 120.7], eXTicks, [0, 200], eBotY, true,
  [[eCons2, "gd"], [ePath2, "g"], [eCons1, "kd"], [ePath1, "k"]]);
// (f)
drawPlot(colR, rowTops[2][0], [0.5, 74.7], fXTicks, [0, 100], fTopY, false,
  [[fSus2, "gd"], [fInf2, "g"], [fSus1, "kd"], [fInf1, "k"]]);
drawPlot(colR, rowTops[2][1], [0.5, 74.7], fXTicks, [0, 300], fBotY, true,
  [[fCons2, "gd"], [fPath2, "g"], [fCons1, "kd"], [fPath1, "k"]]);
</script>
</body>
</html>
